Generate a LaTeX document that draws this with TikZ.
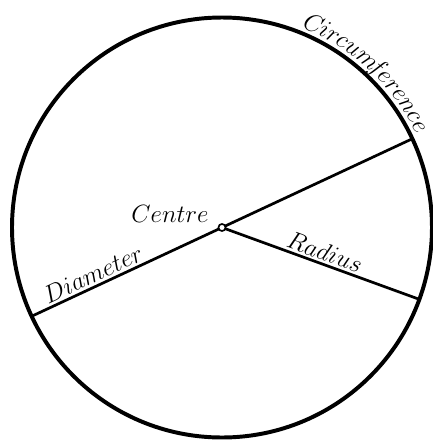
\documentclass[tikz,border=0pt]{standalone}
\usetikzlibrary{decorations.text}
\font\mymi=cmmi12 at 12pt
\tikzset{
  rim/.style={line width=1.9pt},
  seg/.style={line width=1.3pt},
  lbl/.style={font=\large, inner sep=1pt},
  dot/.style={circle, draw, fill=white, line width=0.8pt, minimum size=3.4pt, inner sep=0pt}
}
\begin{document}
\begin{tikzpicture}[x=0.48pt, y=-0.48pt]
\useasboundingbox (0,0) rectangle (433,441);
\coordinate (c) at (222,227.5);
\draw[rim] (c) circle[radius=100.8pt];
\path (c) ++(25:100.8pt) coordinate (dA);
\path (c) ++(205:100.8pt) coordinate (dB);
\path (c) ++(-20:100.8pt) coordinate (rA);
\draw[seg] (dB) -- (dA);
\draw[seg] (c) -- (rA);
\node[dot] (centre) at (c) {};
\node[lbl] (lc) at (170,214) {$Centre$};
\node[lbl, rotate=25] (ld) at (93,274) {$Diameter$};
\node[lbl, rotate=-20] (lr) at (325,252) {$Radius$};
\path[decorate, decoration={text along path, text align=center,
  text={|\mymi|Circu{m\kern-2.2pt f}erence}}]
  (c) ++(77:103.4pt) arc[start angle=77, end angle=17, radius=103.4pt];
\end{tikzpicture}
\end{document}
